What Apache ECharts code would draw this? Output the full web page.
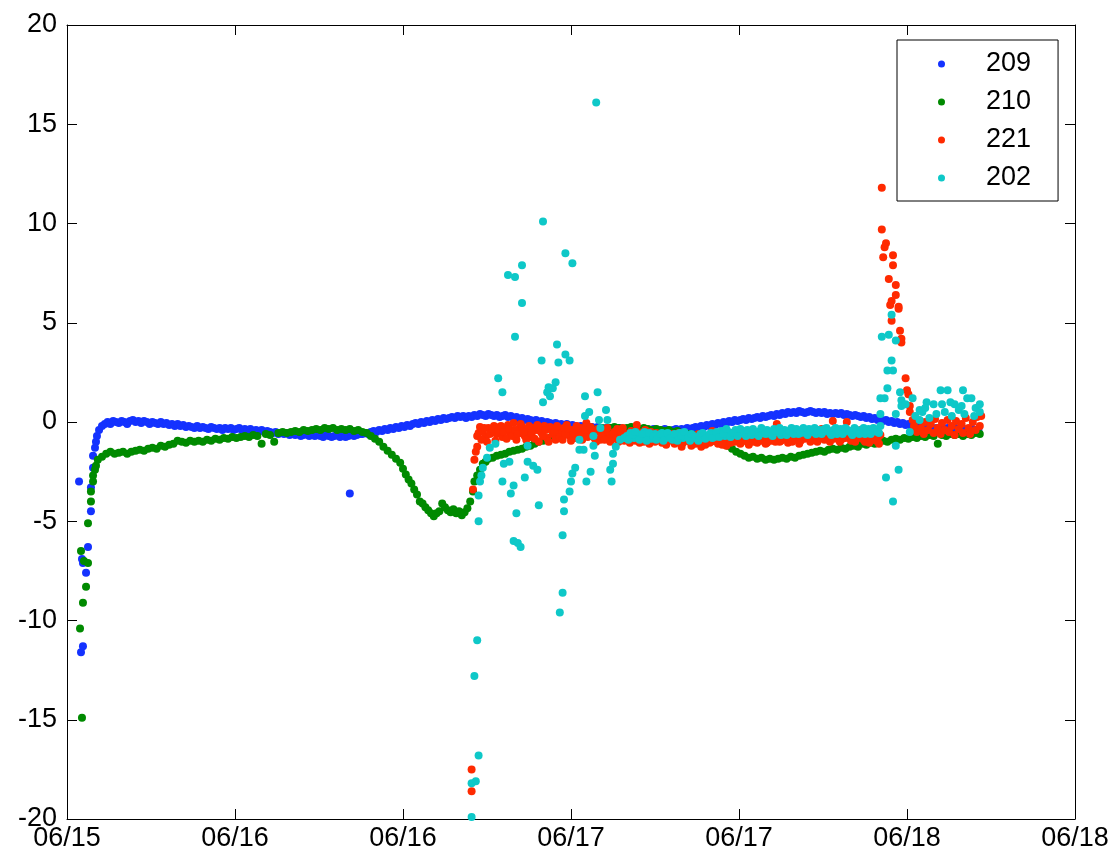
<!DOCTYPE html>
<html>
<head>
<meta charset="utf-8">
<script src="https://cdn.jsdelivr.net/npm/echarts@6/dist/echarts.min.js"></script>
<style>html,body{margin:0;padding:0;background:#fff}#c{width:1119px;height:857px}</style>
</head>
<body>
<div id="c"></div>
<script>
// x values: hours since 06/15 12:00
const xTickLabels = ['06/15','06/16','06/16','06/17','06/17','06/18','06/18'];
const seriesNames = ['209','210','221','202'];
const seriesColors = ['#1432ff','#008a00','#ff2a00','#0ec8c8'];

const s209 = [
[0.86,-3.0],[1.0,-11.6],[1.07,-6.9],[1.14,-11.3],[1.14,-7.1],[1.36,-7.6],[1.5,-6.3],[1.71,-4.5],[1.71,-3.3],[1.86,-2.3],[1.86,-1.7],[2.0,-1.3],[2.07,-1.0],[2.14,-0.7],[2.29,-0.4],[2.5,-0.2],[2.7,-0.1],[2.9,0.0],[3.1,-0.1],[3.3,0.05],[3.5,0.0],[3.7,-0.05],[3.9,0.05],[4.1,0.0],[4.3,-0.1],[4.5,0.05],[4.7,0.1],[4.9,0.0],[5.1,0.05],[5.3,-0.05],[5.5,0.05],[5.7,0.0],[5.9,-0.1],[6.1,0.0],[6.3,-0.05],[6.5,-0.1],[6.7,0.0],[6.9,-0.1],[7.1,-0.05],[7.3,-0.15],[7.5,-0.1],[7.7,-0.2],[7.9,-0.1],[8.1,-0.2],[8.3,-0.15],[8.5,-0.25],[8.7,-0.2],[8.9,-0.25],[9.1,-0.3],[9.3,-0.2],[9.5,-0.3],[9.7,-0.25],[9.9,-0.3],[10.1,-0.35],[10.3,-0.25],[10.5,-0.3],[10.7,-0.35],[10.9,-0.3],[11.1,-0.4],[11.3,-0.3],[11.5,-0.35],[11.7,-0.3],[11.9,-0.4],[12.1,-0.35],[12.3,-0.3],[12.5,-0.4],[12.7,-0.35],[12.9,-0.4],[13.1,-0.35],[13.3,-0.45],[13.5,-0.4],[13.7,-0.45],[13.9,-0.4],[14.1,-0.5],[14.3,-0.45],[14.5,-0.5],[14.7,-0.55],[14.9,-0.5],[15.1,-0.6],[15.3,-0.55],[15.5,-0.6],[15.7,-0.55],[15.9,-0.65],[16.1,-0.6],[16.3,-0.65],[16.5,-0.6],[16.7,-0.7],[16.9,-0.65],[17.1,-0.6],[17.3,-0.7],[17.5,-0.65],[17.7,-0.7],[17.9,-0.6],[18.1,-0.7],[18.3,-0.75],[18.5,-0.65],[18.7,-0.7],[18.9,-0.75],[19.1,-0.7],[19.3,-0.65],[19.5,-0.75],[19.7,-0.7],[19.9,-0.75],[20.1,-0.7],[20.2,-3.6],[20.3,-0.65],[20.5,-0.7],[20.7,-0.65],[20.9,-0.6],
[21.1,-0.6],[21.3,-0.55],[21.5,-0.6],[21.7,-0.5],[21.9,-0.45],[22.1,-0.5],[22.3,-0.4],[22.5,-0.45],[22.7,-0.35],[22.9,-0.4],[23.1,-0.3],[23.3,-0.35],[23.5,-0.25],[23.7,-0.3],[23.9,-0.2],[24.1,-0.25],[24.3,-0.15],[24.5,-0.2],[24.7,-0.1],[24.9,-0.05],[25.1,-0.1],[25.3,0.0],[25.5,-0.05],[25.7,0.05],[25.9,0.0],[26.1,0.1],[26.3,0.05],[26.5,0.15],[26.7,0.1],[26.9,0.2],[27.1,0.15],[27.3,0.2],[27.5,0.25],[27.7,0.2],[27.9,0.3],[28.1,0.25],[28.3,0.3],[28.5,0.2],[28.7,0.3],[28.9,0.25],[29.1,0.35],[29.3,0.3],[29.5,0.4],[29.7,0.35],[29.9,0.3],[30.1,0.4],[30.3,0.35],[30.5,0.3],[30.7,0.35],[30.9,0.25],[31.1,0.3],[31.3,0.35],[31.5,0.25],[31.7,0.3],[31.9,0.2],[32.1,0.25],[32.3,0.15],[32.5,0.2],[32.7,0.1],[32.9,0.15],[33.1,0.1],[33.3,0.05],[33.5,0.1],[33.7,0.0],[33.9,0.05],[34.1,-0.05],[34.3,0.0],[34.5,-0.05],[34.7,-0.1],[34.9,-0.05],[35.1,-0.15],[35.3,-0.1],[35.5,-0.15],[35.7,-0.1],[35.9,-0.2],[36.1,-0.15],[36.3,-0.2],[36.5,-0.25],[36.7,-0.2],[36.9,-0.25],[37.1,-0.2],[37.3,-0.3],[37.5,-0.25],[37.7,-0.3],[37.9,-0.25],[38.1,-0.3],[38.3,-0.35],[38.5,-0.3],[38.7,-0.35],[38.9,-0.3],[39.1,-0.4],[39.3,-0.35],[39.5,-0.3],[39.7,-0.35],[39.9,-0.4],[40.1,-0.35],[40.3,-0.4],[40.5,-0.35],[40.7,-0.3],[40.9,-0.4],[41.1,-0.35],[41.3,-0.4],[41.5,-0.45],[41.7,-0.4],[41.9,-0.35],[42.1,-0.4],[42.3,-0.45],[42.5,-0.4],[42.7,-0.35],[42.9,-0.4],[43.1,-0.45],[43.3,-0.4],[43.5,-0.35],[43.7,-0.4],[43.9,-0.35],[44.1,-0.4],[44.3,-0.3],[44.5,-0.35],[44.7,-0.3],[44.9,-0.25],[45.1,-0.3],[45.3,-0.2],[45.5,-0.25],[45.7,-0.15],[45.9,-0.2],[46.1,-0.1],[46.3,-0.15],[46.5,-0.05],[46.7,-0.1],[46.9,0.0],[47.1,-0.05],[47.3,0.05],[47.5,0.0],[47.7,0.1],[47.9,0.05],[48.1,0.1],[48.3,0.15],[48.5,0.1],[48.7,0.2],[48.9,0.15],[49.1,0.2],[49.3,0.25],[49.5,0.2],[49.7,0.3],[49.9,0.25],[50.1,0.3],[50.3,0.35],[50.5,0.3],[50.7,0.4],[50.9,0.35],[51.1,0.45],[51.3,0.4],[51.5,0.5],[51.7,0.45],[51.9,0.5],[52.1,0.45],[52.3,0.55],[52.5,0.5],[52.7,0.45],[52.9,0.5],[53.1,0.55],[53.3,0.5],[53.5,0.45],[53.7,0.5],[53.9,0.45],[54.1,0.5],[54.3,0.4],[54.5,0.45],[54.7,0.4],[54.9,0.45],[55.1,0.4],[55.3,0.45],[55.5,0.35],[55.7,0.4],[55.9,0.35],[56.1,0.3],[56.3,0.35],[56.5,0.3],[56.7,0.25],[56.9,0.3],[57.1,0.2],[57.3,0.25],[57.5,0.15],[57.7,0.2],[57.9,0.1],[58.1,0.15],[58.3,0.05],[58.5,0.1],[58.7,0.0],[58.9,0.05],[59.1,-0.05],[59.3,0.0],[59.5,-0.1],[59.7,-0.05],[59.9,-0.15],[60.1,-0.1],[60.3,-0.2],[60.5,-0.25],[60.7,-0.2],[60.9,-0.3],[61.1,-0.25],[61.3,-0.3],[61.5,-0.25],[61.7,-0.3],[61.9,-0.35],[62.1,-0.3],[62.3,-0.35],[62.5,-0.3],[62.7,-0.35],[62.9,-0.3],[63.1,-0.4],[63.3,-0.35],[63.5,-0.3],[63.7,-0.4],[63.9,-0.35],[64.1,-0.4],[64.3,-0.35],[64.5,-0.4],[64.7,-0.35],[64.9,-0.4],[65.1,-0.4]
];

const s210 = [
[0.93,-10.4],[1.0,-6.5],[1.07,-14.9],[1.14,-9.1],[1.21,-7.0],[1.36,-8.3],[1.5,-7.1],[1.5,-5.1],[1.71,-4.0],[1.71,-3.5],[1.86,-3.0],[1.86,-2.7],[2.0,-2.4],[2.07,-2.2],[2.2,-1.9],[2.5,-1.75],[2.8,-1.6],[3.1,-1.5],[3.4,-1.6],[3.7,-1.55],[4.0,-1.5],[4.3,-1.6],[4.6,-1.5],[4.9,-1.45],[5.2,-1.4],[5.5,-1.45],[5.8,-1.35],[6.1,-1.3],[6.4,-1.35],[6.7,-1.2],[7.0,-1.25],[7.3,-1.15],[7.6,-1.1],[7.9,-0.95],[8.2,-1.0],[8.5,-1.05],[8.8,-0.95],[9.1,-1.0],[9.4,-0.95],[9.7,-1.0],[10.0,-0.9],[10.3,-0.95],[10.6,-0.85],[10.9,-0.9],[11.2,-0.8],[11.5,-0.85],[11.8,-0.75],[12.1,-0.8],[12.4,-0.75],[12.7,-0.7],[13.0,-0.75],[13.3,-0.65],[13.6,-0.7],[13.9,-1.1],[14.2,-0.6],[14.5,-0.65],[14.8,-1.0],[15.1,-0.55],[15.4,-0.5],[15.7,-0.55],[16.0,-0.5],[16.3,-0.45],[16.6,-0.5],[16.9,-0.4],[17.2,-0.45],[17.5,-0.4],[17.8,-0.35],[18.1,-0.4],[18.4,-0.3],[18.7,-0.35],[19.0,-0.3],[19.3,-0.4],[19.6,-0.35],[19.9,-0.4],[20.2,-0.35],[20.5,-0.45],[20.8,-0.4],[21.1,-0.5],[21.4,-0.55],[21.7,-0.7],[22.0,-0.85],[22.3,-1.0],[22.6,-1.25],[22.9,-1.45],[23.2,-1.65],[23.5,-1.85],[23.8,-2.05],[24.0,-2.35],[24.2,-2.65],[24.4,-2.9],[24.6,-3.1],[24.8,-3.4],[25.0,-3.65],[25.2,-4.0],[25.4,-4.1],[25.6,-4.3],[25.8,-4.45],[26.0,-4.6],[26.2,-4.75],[26.4,-4.6],[26.6,-4.5],[26.8,-4.1],[27.0,-4.3],[27.2,-4.45],[27.4,-4.55],[27.6,-4.4],[27.8,-4.6],[28.0,-4.5],[28.2,-4.7],[28.4,-4.55],[28.6,-4.35],[28.8,-4.0],[29.0,-3.5],[29.1,-3.0],[29.3,-2.7],[29.5,-2.4],[29.7,-2.1],[29.9,-2.0],[30.1,-1.85],[30.4,-1.8],[30.7,-1.7],[31.0,-1.65],[31.3,-1.6],[31.6,-1.5],[31.9,-1.45],[32.2,-1.4],[32.5,-1.35],[32.8,-1.25],[33.1,-1.2],[33.4,-1.1],[33.7,-1.0],[34.0,-0.95],[34.3,-0.85],[34.6,-0.75],[34.9,-0.7],[35.2,-0.6],[35.5,-0.55],[35.8,-0.5],[36.1,-0.45],[36.4,-0.5],[36.7,-0.4],[37.0,-0.45],[37.3,-0.35],[37.6,-0.4],[37.9,-0.35],[38.2,-0.3],[38.5,-0.35],[38.8,-0.3],[39.1,-0.25],[39.4,-0.3],[39.7,-0.35],[40.0,-0.3],[40.3,-0.25],[40.6,-0.3],[40.9,-0.35],[41.2,-0.3],[41.5,-0.35],[41.8,-0.4],[42.1,-0.35],[42.4,-0.4],[42.7,-0.45],[43.0,-0.4],[43.3,-0.5],[43.6,-0.45],[43.9,-0.55],[44.2,-0.6],[44.5,-0.6],[44.8,-0.65],[45.1,-0.7],[45.4,-0.75],[45.7,-0.8],[46.0,-0.9],[46.3,-0.95],[46.6,-1.05],[46.9,-1.1],[47.2,-1.2],[47.5,-1.35],[47.8,-1.5],[48.1,-1.6],[48.4,-1.7],[48.7,-1.8],[49.0,-1.75],[49.3,-1.85],[49.6,-1.8],[49.9,-1.9],[50.2,-1.85],[50.5,-1.9],[50.8,-1.85],[51.1,-1.8],[51.4,-1.85],[51.7,-1.75],[52.0,-1.8],[52.3,-1.7],[52.6,-1.65],[52.9,-1.6],[53.2,-1.55],[53.5,-1.5],[53.8,-1.45],[54.1,-1.5],[54.4,-1.4],[54.7,-1.35],[55.0,-1.4],[55.3,-1.3],[55.6,-1.35],[55.9,-1.25],[56.2,-1.2],[56.5,-1.25],[56.8,-1.1],[57.1,-1.15],[57.4,-1.05],[57.7,-1.1],[58.0,-1.0],[58.3,-0.95],[58.6,-1.0],[58.9,-0.9],[59.2,-0.85],[59.5,-0.9],[59.8,-0.8],[60.1,-0.85],[60.4,-0.75],[60.7,-0.8],[61.0,-0.7],[61.3,-0.75],[61.6,-0.65],[61.9,-0.7],[62.2,-1.1],[62.5,-0.65],[62.8,-0.7],[63.1,-0.6],[63.4,-0.65],[63.7,-0.6],[64.0,-0.7],[64.3,-0.6],[64.6,-0.65],[64.9,-0.55],[65.2,-0.6]
];

const s221 = [
[28.9,-17.5],[28.9,-18.6],[29.0,-3.4],[29.1,-1.9],[29.2,-1.5],[29.3,-1.25],[29.3,-0.7],[29.4,-0.55],[29.5,-0.25],[29.7,-0.45],[29.9,-0.75],[30.1,-0.3],[30.3,-0.55],[30.5,-0.2],[30.7,-0.6],[30.9,-0.25],[31.1,-0.75],[31.3,-0.4],[31.5,-0.15],[31.7,-0.6],[31.9,-0.05],[32.1,-0.9],[32.3,-0.35],[32.5,-0.25],[32.7,-0.7],[32.9,-0.45],[33.1,-0.75],[33.3,-0.3],[33.5,-0.4],[33.7,-1.0],[33.9,-0.55],[34.1,-0.2],[34.3,-0.8],[34.5,-0.25],[34.7,-0.6],[34.9,-0.9],[35.1,-0.45],[35.3,-0.55],[35.5,-0.3],[35.7,-0.15],[35.9,-0.7],[36.1,-0.4],[36.3,-0.8],[36.5,-0.5],[36.7,-0.3],[36.9,-0.65],[37.1,-0.05],[37.3,-0.5],[37.5,-0.55],[37.7,-0.85],[37.9,-0.35],[38.1,-0.9],[38.3,-0.6],[38.5,-0.45],[38.7,-0.7],[38.9,-0.8],[39.1,-0.5],[39.3,-0.35],[39.5,-0.65],[39.7,-0.3],[39.9,-0.75],[40.1,-0.9],[40.3,-0.45],[40.5,-0.6],[40.7,-0.15],[40.9,-1.05],[41.1,-0.7],[41.3,-0.4],[41.5,-0.85],[41.7,-0.5],[41.9,-0.95],[42.1,-0.55],[42.3,-0.8],[42.5,-1.05],[42.7,-0.6],[42.9,-0.9],[43.1,-0.7],[43.3,-0.8],[43.5,-1.0],[43.7,-0.55],[43.9,-1.25],[44.1,-0.85],[44.3,-0.65],[44.5,-1.0],[44.7,-0.75],[44.9,-1.1],[45.1,-0.6],[45.3,-1.25],[45.5,-0.9],[45.7,-0.7],[45.9,-1.05],[46.1,-0.45],[46.3,-0.85],[46.5,-1.1],[46.7,-0.65],[46.9,-0.95],[47.1,-1.2],[47.3,-0.8],[47.5,-0.55],[47.7,-1.0],[47.9,-0.7],[48.1,-1.1],[48.3,-0.85],[48.5,-0.6],[48.7,-1.15],[48.9,-0.9],[49.1,-0.7],[49.3,-1.05],[49.5,-0.8],[49.7,-0.5],[49.9,-1.1],[50.1,-0.75],[50.3,-0.95],[50.5,-0.6],[50.7,-0.1],[50.9,-1.0],[51.1,-0.8],[51.3,-0.55],[51.5,-1.05],[51.7,-0.75],[51.9,-0.9],[52.1,-0.5],[52.3,-1.1],[52.5,-0.7],[52.7,-0.85],[52.9,-0.45],[53.1,-1.0],[53.3,-0.65],[53.5,-0.8],[53.7,-0.7],[53.9,-0.35],[54.1,-0.9],[54.3,-0.6],[54.5,-1.0],[54.7,0.05],[54.9,-0.75],[55.1,-0.5],[55.3,-0.9],[55.5,-0.65],[55.7,0.0],[55.9,-0.8],[56.1,-0.55],[56.3,-1.0],[56.5,-0.7],[56.7,-0.4],[56.9,-0.9],[57.1,-0.6],[57.3,-1.05],[57.5,-0.75],[57.7,-0.5],[57.9,-0.85],[58.0,-1.1],[58.1,-0.65],
[29.6,-0.9],[29.8,-0.3],[30.0,-1.0],[30.2,-0.6],[30.4,-0.35],[30.6,-0.95],[30.8,-0.45],[31.0,-0.2],[31.2,-0.5],[31.4,-0.85],[31.6,-0.35],[31.8,-0.7],[32.0,-0.4],[32.2,-0.6],[32.4,-0.1],[32.6,-0.5],[32.8,-0.9],[33.0,-0.2],[33.2,-0.55],[33.4,-0.85],[33.6,-0.15],[33.8,-0.45],[34.0,-0.7],[34.2,-0.4],[34.4,-1.0],[34.6,-0.35],[34.8,-0.5],[35.0,-0.2],[35.2,-0.75],[35.4,-0.9],[35.6,-0.6],[35.8,-0.35],[36.0,-0.95],[36.2,-0.55],[36.4,-0.2],[36.6,-0.7],[36.8,-0.9],[37.0,-0.4],[37.2,-0.75],[37.4,-0.25],[37.6,-0.6],[37.8,-1.0],[38.0,-0.5],[38.2,-0.7],[38.4,-0.9],[38.6,-0.3],[38.8,-1.0],[39.0,-0.6],[39.2,-0.85],[39.4,-1.0],[39.6,-0.5],[39.8,-0.95],[40.0,-0.6],[40.2,-1.05],[40.4,-0.75],[40.6,-0.95],[40.8,-0.5],[41.0,-0.85],[41.2,-1.0],[41.4,-0.6],[41.6,-1.1],[41.8,-0.75],[42.0,-1.0],[42.2,-0.7],[42.4,-0.9],[42.6,-0.75],[42.8,-1.15],[43.0,-0.95],[43.2,-0.6],[43.4,-1.1],[43.6,-0.85],[43.8,-0.7],[44.0,-1.05],[44.2,-0.95],[44.4,-0.8],[44.6,-1.2],[44.8,-0.9],[45.0,-0.75],[45.2,-1.0],[45.4,-0.8],[45.6,-1.15],[45.8,-0.85],[46.0,-1.0],[46.2,-0.7],[46.4,-0.95],[46.6,-0.8],[46.8,-1.15],[47.0,-0.85],[47.2,-0.6],[47.4,-1.05],[47.6,-0.8],[47.8,-0.9],[48.0,-0.65],[48.2,-1.0],[48.4,-0.75],[48.6,-0.95],[48.8,-0.6],[49.0,-1.0],[49.2,-0.85],[49.4,-0.6],[49.6,-0.95],[49.8,-0.75],[50.0,-1.05],[50.2,-0.55],[50.4,-0.85],[50.6,-1.0],[50.8,-0.7],[51.0,-0.95],[51.2,-0.6],[51.4,-0.85],[51.6,-0.65],[51.8,-1.0],[52.0,-0.8],[52.2,-0.6],[52.4,-0.95],[52.6,-0.55],[52.8,-0.8],[53.0,-0.65],[53.2,-0.9],[53.4,-0.5],[53.6,-1.0],[53.8,-0.8],[54.0,-0.6],[54.2,-0.75],[54.4,-0.9],[54.6,-0.5],[54.8,-0.85],[55.0,-0.7],[55.2,-1.0],[55.4,-0.55],[55.6,-0.8],[55.8,-0.6],[56.0,-0.95],[56.2,-0.7],[56.4,-0.85],[56.6,-0.55],[56.8,-0.75],[57.0,-1.0],[57.2,-0.7],[57.4,-0.9],[57.6,-0.6],[57.8,-0.95],
[58.2,11.8],[58.2,9.7],[58.4,8.8],[58.5,9.0],[58.3,8.3],[59.0,8.4],[59.0,7.9],[58.7,7.2],[59.2,6.9],[59.2,6.4],[58.8,5.9],[58.9,6.1],[59.4,5.8],[59.4,5.7],[58.9,5.1],[59.5,4.6],[59.6,4.2],[59.6,4.0],[59.9,2.2],[60.0,1.6],[60.1,1.4],[60.2,0.8],[60.2,0.5],[60.4,0.1],
[60.5,-0.2],[60.7,-0.5],[60.8,0.1],[61.0,-0.3],[61.2,-0.6],[61.3,0.0],[61.5,-0.4],[61.7,-0.1],[61.9,-0.55],[62.0,0.15],[62.2,-0.3],[62.4,-0.6],[62.5,-0.05],[62.7,-0.4],[62.9,0.1],[63.0,-0.5],[63.2,-0.2],[63.4,-0.65],[63.5,0.05],[63.7,-0.35],[63.9,-0.1],[64.0,-0.55],[64.2,0.2],[64.4,-0.3],[64.5,-0.6],[64.7,0.0],[64.9,-0.4],[65.0,0.25],[65.2,-0.2],[65.3,0.3]
];

const s202 = [
[28.9,-18.2],[28.9,-19.9],[29.1,-12.8],[29.2,-18.1],[29.3,-11.0],[29.4,-16.8],[29.4,-5.0],[29.4,-3.7],[29.5,-3.0],[29.6,-2.7],[29.7,-2.3],[30.0,-1.8],[30.2,-1.3],[30.6,-1.1],[31.1,-3.0],[31.2,-2.1],[30.8,2.2],[31.1,1.5],[31.5,7.4],[32.0,7.3],[32.5,7.9],[32.5,6.0],[32.0,4.3],[31.6,-2.0],[31.7,-3.6],[31.9,-3.2],[32.1,-4.6],[31.9,-6.0],[32.2,-6.1],[32.4,-6.3],[32.7,-2.8],[32.9,-1.2],[32.9,-2.0],[33.3,-2.2],[33.6,-2.4],[33.7,-4.2],[33.9,3.1],[34.0,10.1],[34.0,1.0],[34.3,1.5],[34.4,1.75],[34.5,1.3],[34.7,1.7],[34.9,2.0],[35.0,3.9],[35.1,3.0],[35.4,-5.7],[35.4,-8.6],[35.2,-9.6],[35.5,-3.9],[35.5,-4.5],[35.6,8.5],[36.1,8.0],[35.6,3.4],[35.9,3.1],[35.9,-3.5],[36.0,-3.0],[36.1,-2.6],[36.3,-2.3],[36.6,-0.9],[36.6,-1.4],[36.9,-1.4],[37.0,1.3],[37.0,0.3],[37.1,-3.0],[37.3,0.5],[37.4,-2.5],[37.6,-0.7],[37.6,-1.2],[37.7,-1.7],[37.8,16.1],[37.9,1.5],[38.0,0.1],[38.1,-0.3],[38.5,0.6],[38.6,0.1],[38.8,-2.4],[38.9,-3.0],[39.0,-2.1],[39.0,-1.6],[39.2,-1.25],[39.5,-0.9],[39.8,-0.8],[40.0,-0.7],[40.25,-0.55],[40.5,-0.8],[40.75,-0.6],[41.0,-0.75],[41.25,-0.5],[41.5,-0.7],[41.75,-0.85],[42.0,-0.6],[42.25,-0.75],[42.5,-0.55],[42.75,-0.8],[43.0,-0.65],[43.25,-0.9],[43.5,-0.7],[43.75,-0.55],[44.0,-0.8],[44.25,-0.65],[44.5,-0.95],[44.75,-0.7],[45.0,-0.85],[45.25,-0.6],[45.5,-0.8],[45.75,-0.7],[46.0,-0.55],[46.25,-0.75],[46.5,-0.6],[46.75,-0.45],[47.0,-0.7],[47.25,-0.5],[47.5,-0.65],[47.75,-0.4],[48.0,-0.6],[48.25,-0.45],[48.5,-0.7],[48.75,-0.5],[49.0,-0.35],[49.25,-0.6],[49.5,-0.45],[49.75,-0.55],[50.0,-0.4],[50.25,-0.6],[50.5,-0.35],[50.75,-0.5],[51.0,-0.65],[51.25,-0.4],[51.5,-0.55],[51.75,-0.3],[52.0,-0.5],[52.25,-0.6],[52.5,-0.4],[52.75,-0.55],[53.0,-0.35],[53.25,-0.5],[53.5,-0.6],[53.75,-0.4],[54.0,-0.5],[54.25,-0.3],[54.5,-0.55],[54.75,-0.4],[55.0,-0.6],[55.25,-0.35],[55.5,-0.5],[55.75,-0.4],[56.0,-0.55],[56.25,-0.3],[56.5,-0.5],[56.75,-0.4],[57.0,-0.6],[57.25,-0.35],[57.5,-0.5],[57.75,-0.4],[58.0,-0.55],[58.1,-0.2],
[40.1,-0.9],[40.4,-0.65],[40.6,-0.5],[40.9,-0.9],[41.1,-0.6],[41.4,-0.95],[41.6,-0.55],[41.9,-0.7],[42.1,-0.9],[42.4,-0.6],[42.6,-0.95],[42.9,-0.55],[43.1,-0.8],[43.4,-0.6],[43.6,-0.95],[43.9,-0.7],[44.1,-0.5],[44.4,-0.8],[44.6,-0.6],[44.9,-0.75],[45.1,-0.95],[45.4,-0.55],[45.6,-0.85],[45.9,-0.6],[46.1,-0.8],[46.4,-0.5],[46.6,-0.75],[46.9,-0.6],[47.1,-0.35],[47.4,-0.75],[47.6,-0.55],[47.9,-0.7],[48.1,-0.35],[48.4,-0.6],[48.6,-0.4],[48.9,-0.65],[49.1,-0.5],[49.4,-0.7],[49.6,-0.3],[49.9,-0.6],[50.1,-0.5],[50.4,-0.7],[50.6,-0.45],[50.9,-0.3],[51.1,-0.5],[51.4,-0.65],[51.6,-0.45],[51.9,-0.6],[52.1,-0.35],[52.4,-0.55],[52.6,-0.3],[52.9,-0.65],[53.1,-0.45],[53.4,-0.3],[53.6,-0.45],[53.9,-0.6],[54.1,-0.35],[54.4,-0.45],[54.6,-0.65],[54.9,-0.3],[55.1,-0.45],[55.4,-0.6],[55.6,-0.3],[55.9,-0.45],[56.1,-0.65],[56.4,-0.4],[56.6,-0.6],[56.9,-0.3],[57.1,-0.45],[57.4,-0.6],[57.6,-0.3],[57.9,-0.5],
[58.9,5.4],[58.2,4.3],[58.7,4.4],[59.2,4.1],[58.9,3.1],[58.6,2.6],[59.0,2.6],[58.6,1.7],[58.1,1.2],[58.4,1.2],[59.5,1.5],[59.6,1.1],[59.6,0.8],[59.9,0.9],[60.4,1.2],[60.9,0.6],[61.4,1.0],[61.9,0.9],[62.4,1.6],[62.9,1.6],[62.5,0.9],[63.1,1.0],[63.4,0.9],[64.0,1.6],[64.3,1.2],[64.6,1.2],[64.9,0.7],[65.2,0.9],[59.2,-1.2],[58.5,-2.8],[59.4,-2.4],[59.0,-4.0],[58.1,0.4],[59.2,0.4],[60.2,-0.5],[60.9,0.1],[60.6,0.3],[61.1,0.5],[61.3,0.7],[61.6,0.2],[62.1,0.4],[62.7,0.5],[63.2,0.3],[63.7,0.6],[63.9,0.8],[64.1,0.4],[64.8,0.3],[65.2,0.5]
];

const FONT = '"Liberation Sans", Arial, Helvetica, sans-serif';
const chart = echarts.init(document.getElementById('c'), null, {renderer: 'canvas'});
const axisCommon = {
  type: 'value',
  axisLine: {show: true, onZero: false, lineStyle: {color: '#000', width: 1}},
  axisTick: {show: true, inside: true, length: 10, lineStyle: {color: '#000', width: 1}},
  splitLine: {show: false}
};
const allSeries = [s209, s210, s221, s202].map((d, i) => ({
  name: seriesNames[i],
  type: 'scatter',
  data: d,
  symbol: 'circle',
  symbolSize: 8,
  itemStyle: {color: seriesColors[i], opacity: 1},
  emphasis: {disabled: true},
  xAxisIndex: 0,
  yAxisIndex: 0
}));
chart.setOption({
  animation: false,
  backgroundColor: '#fff',
  grid: {left: 67, right: 44, top: 25, bottom: 38, containLabel: false},
  legend: {
    orient: 'vertical',
    left: 897, top: 40,
    padding: [5, 27, 4, 41],
    itemGap: 0,
    itemWidth: 7, itemHeight: 7,
    icon: 'circle',
    borderColor: '#000', borderWidth: 1,
    backgroundColor: '#fff',
    borderRadius: 0,
    textStyle: {fontSize: 27, color: '#000', fontFamily: FONT, lineHeight: 26, padding: [0, 0, 12, 36]},
    data: seriesNames,
    selectedMode: false
  },
  xAxis: [
    Object.assign({}, axisCommon, {
      position: 'bottom', min: 0, max: 72, interval: 12,
      axisLabel: {show: true, margin: 6, fontSize: 27, color: '#000', fontFamily: FONT,
        formatter: v => xTickLabels[Math.round(v / 12)] || ''}
    }),
    Object.assign({}, axisCommon, {
      position: 'top', min: 0, max: 72, interval: 12, axisLabel: {show: false}
    })
  ],
  yAxis: [
    Object.assign({}, axisCommon, {
      position: 'left', min: -20, max: 20, interval: 5,
      axisLabel: {show: true, margin: 10, fontSize: 27, color: '#000', fontFamily: FONT}
    }),
    Object.assign({}, axisCommon, {
      position: 'right', min: -20, max: 20, interval: 5, axisLabel: {show: false}
    })
  ],
  series: allSeries
});
</script>
</body>
</html>
